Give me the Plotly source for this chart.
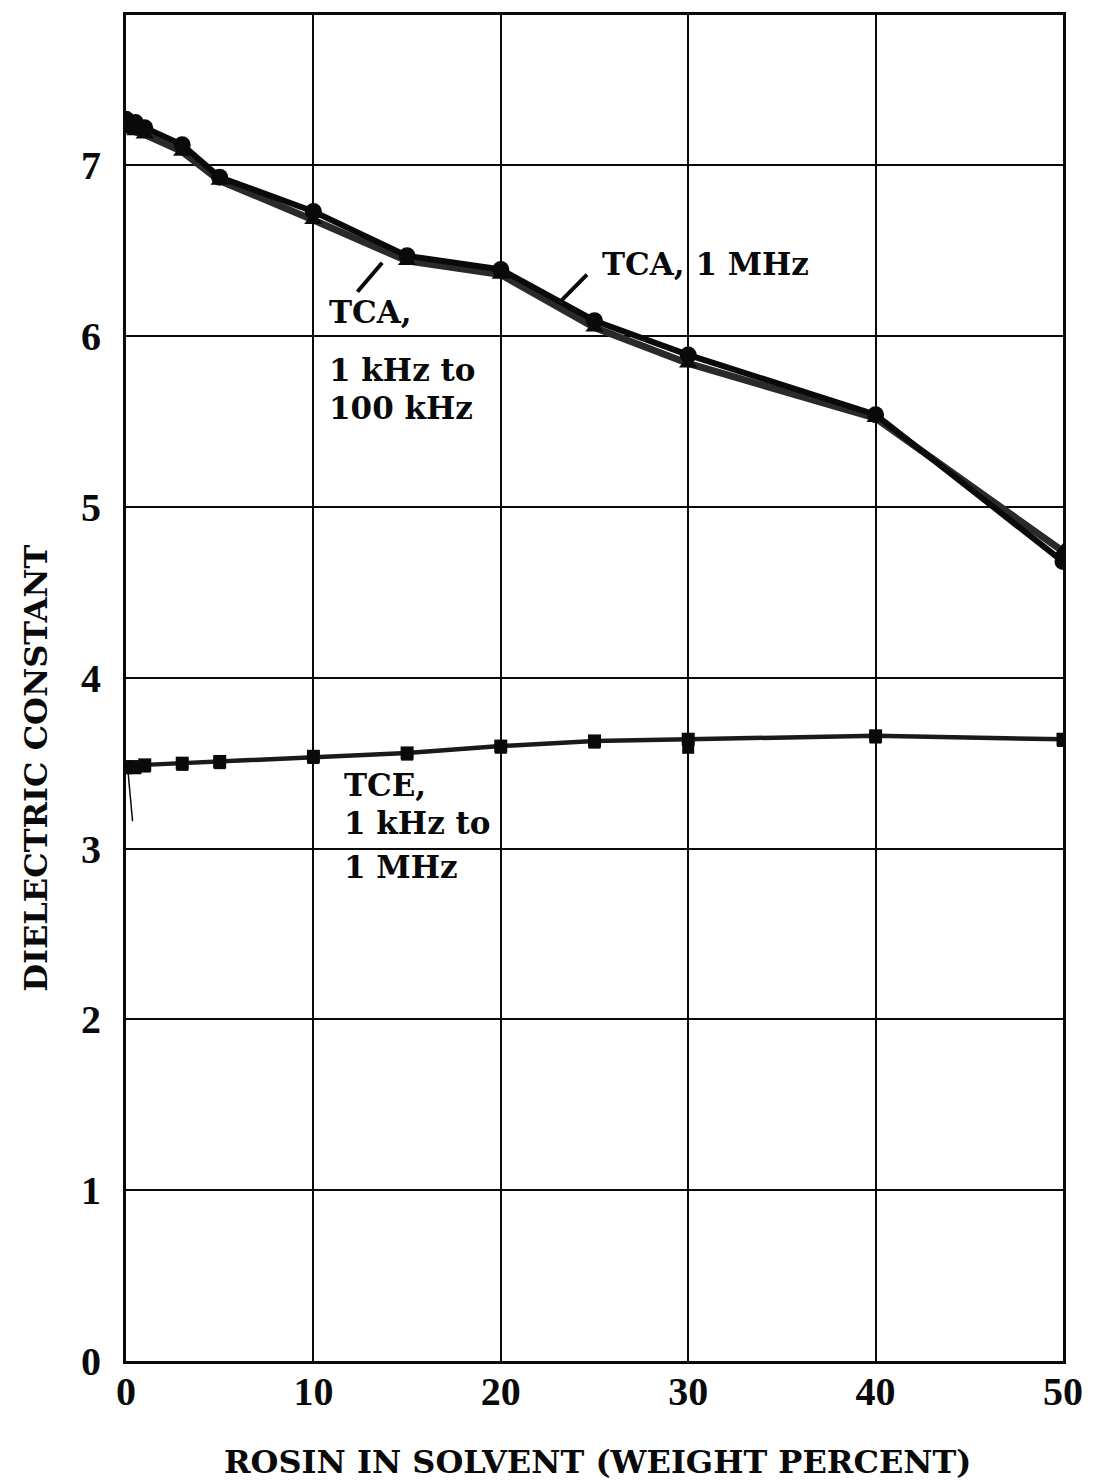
import plotly.graph_objects as go

# Rosin concentration (weight percent) at each measured point
tca_x = [0, 0.5, 1, 3, 5, 10, 15, 20, 25, 30, 40, 50]
# Trichloroethane, 1 MHz
tca_1mhz = [7.27, 7.25, 7.22, 7.12, 6.93, 6.73, 6.47, 6.39, 6.09, 5.89, 5.54, 4.68]
# Trichloroethane, 1 kHz to 100 kHz
tca_low = [7.21, 7.2, 7.18, 7.08, 6.91, 6.68, 6.44, 6.36, 6.05, 5.84, 5.52, 4.74]

tce_x = [0, 0.5, 1, 3, 5, 10, 15, 20, 25, 30, 40, 50]
# Trichloroethylene, 1 kHz to 1 MHz
tce_a = [3.48, 3.48, 3.49, 3.50, 3.51, 3.54, 3.56, 3.60, 3.63, 3.64, 3.66, 3.64]
tce_b = [3.47, 3.47, 3.48, 3.49, 3.50, 3.53, 3.55, 3.59, 3.62, 3.59, 3.65, 3.63]

x_ticks = [0, 10, 20, 30, 40, 50]
y_ticks = [0, 1, 2, 3, 4, 5, 6, 7]

FONT = "DejaVu Serif"
TICK_FONT = "Liberation Serif"
INK = "#0a0a0a"

fig = go.Figure()

fig.add_trace(go.Scatter(
    x=tca_x, y=tca_low, mode="lines+markers",
    line=dict(color="#2a2a2a", width=7),
    marker=dict(symbol="triangle-up", size=16, color=INK),
    showlegend=False,
))
fig.add_trace(go.Scatter(
    x=tca_x, y=tca_1mhz, mode="lines+markers",
    line=dict(color=INK, width=6),
    marker=dict(symbol="circle", size=17, color=INK),
    showlegend=False,
))
fig.add_trace(go.Scatter(
    x=tce_x, y=tce_b, mode="markers",
    marker=dict(symbol="square", size=12, color=INK),
    showlegend=False,
))
fig.add_trace(go.Scatter(
    x=tce_x, y=tce_a, mode="lines+markers",
    line=dict(color="#1a1a1a", width=4.5),
    marker=dict(symbol="square", size=13, color=INK),
    showlegend=False,
))

# Curve labels, one annotation per text line, with leader lines
label_font = dict(family=FONT, size=31, color=INK)


def label(x, y, text):
    fig.add_annotation(x=x, y=y, text=f"<b>{text}</b>", showarrow=False,
                       xanchor="left", yanchor="middle", font=label_font)


label(25.3, 6.42, "TCA, 1 MHz")
fig.add_shape(type="line", x0=23.07, y0=6.19, x1=24.6, y1=6.36,
              line=dict(color=INK, width=4))

label(10.75, 6.14, "TCA,")
label(10.75, 5.80, "1 kHz to")
label(10.75, 5.58, "100 kHz")
fig.add_shape(type="line", x0=12.35, y0=6.26, x1=13.67, y1=6.43,
              line=dict(color=INK, width=4))

label(11.55, 3.37, "TCE,")
label(11.55, 3.15, "1 kHz to")
label(11.55, 2.89, "1 MHz")
fig.add_shape(type="line", x0=0.1, y0=3.46, x1=0.35, y1=3.16,
              line=dict(color=INK, width=1.5))

# Axis titles
fig.add_annotation(xref="paper", yref="paper", x=0.503, y=-0.075,
                   text="<b>ROSIN IN SOLVENT (WEIGHT PERCENT)</b>",
                   showarrow=False, xanchor="center", yanchor="middle",
                   font=dict(family=FONT, size=32, color=INK))
fig.add_annotation(xref="paper", yref="paper", x=-0.096, y=0.44,
                   text="<b>DIELECTRIC CONSTANT</b>", textangle=-90,
                   showarrow=False, xanchor="center", yanchor="middle",
                   font=dict(family=FONT, size=32, color=INK))

axis_common = dict(
    showgrid=True, gridcolor=INK, gridwidth=1.5,
    showline=True, linecolor=INK, linewidth=3, mirror=True,
    zeroline=False, ticks="",
    tickfont=dict(family=TICK_FONT, size=40, color=INK),
)

fig.update_xaxes(range=[0, 50], tickvals=x_ticks,
                 ticktext=[f"<b>{v}</b>" for v in x_ticks],
                 ticklabelstandoff=-7, **axis_common)
fig.update_yaxes(range=[0, 7.88], tickvals=y_ticks,
                 ticktext=[f"<b>{v}</b>" for v in y_ticks],
                 ticklabelstandoff=14, **axis_common)

fig.update_layout(
    width=1095, height=1480,
    margin=dict(l=126, r=22, t=13, b=119),
    paper_bgcolor="white", plot_bgcolor="white",
    showlegend=False,
)

fig.write_html("out.html")
